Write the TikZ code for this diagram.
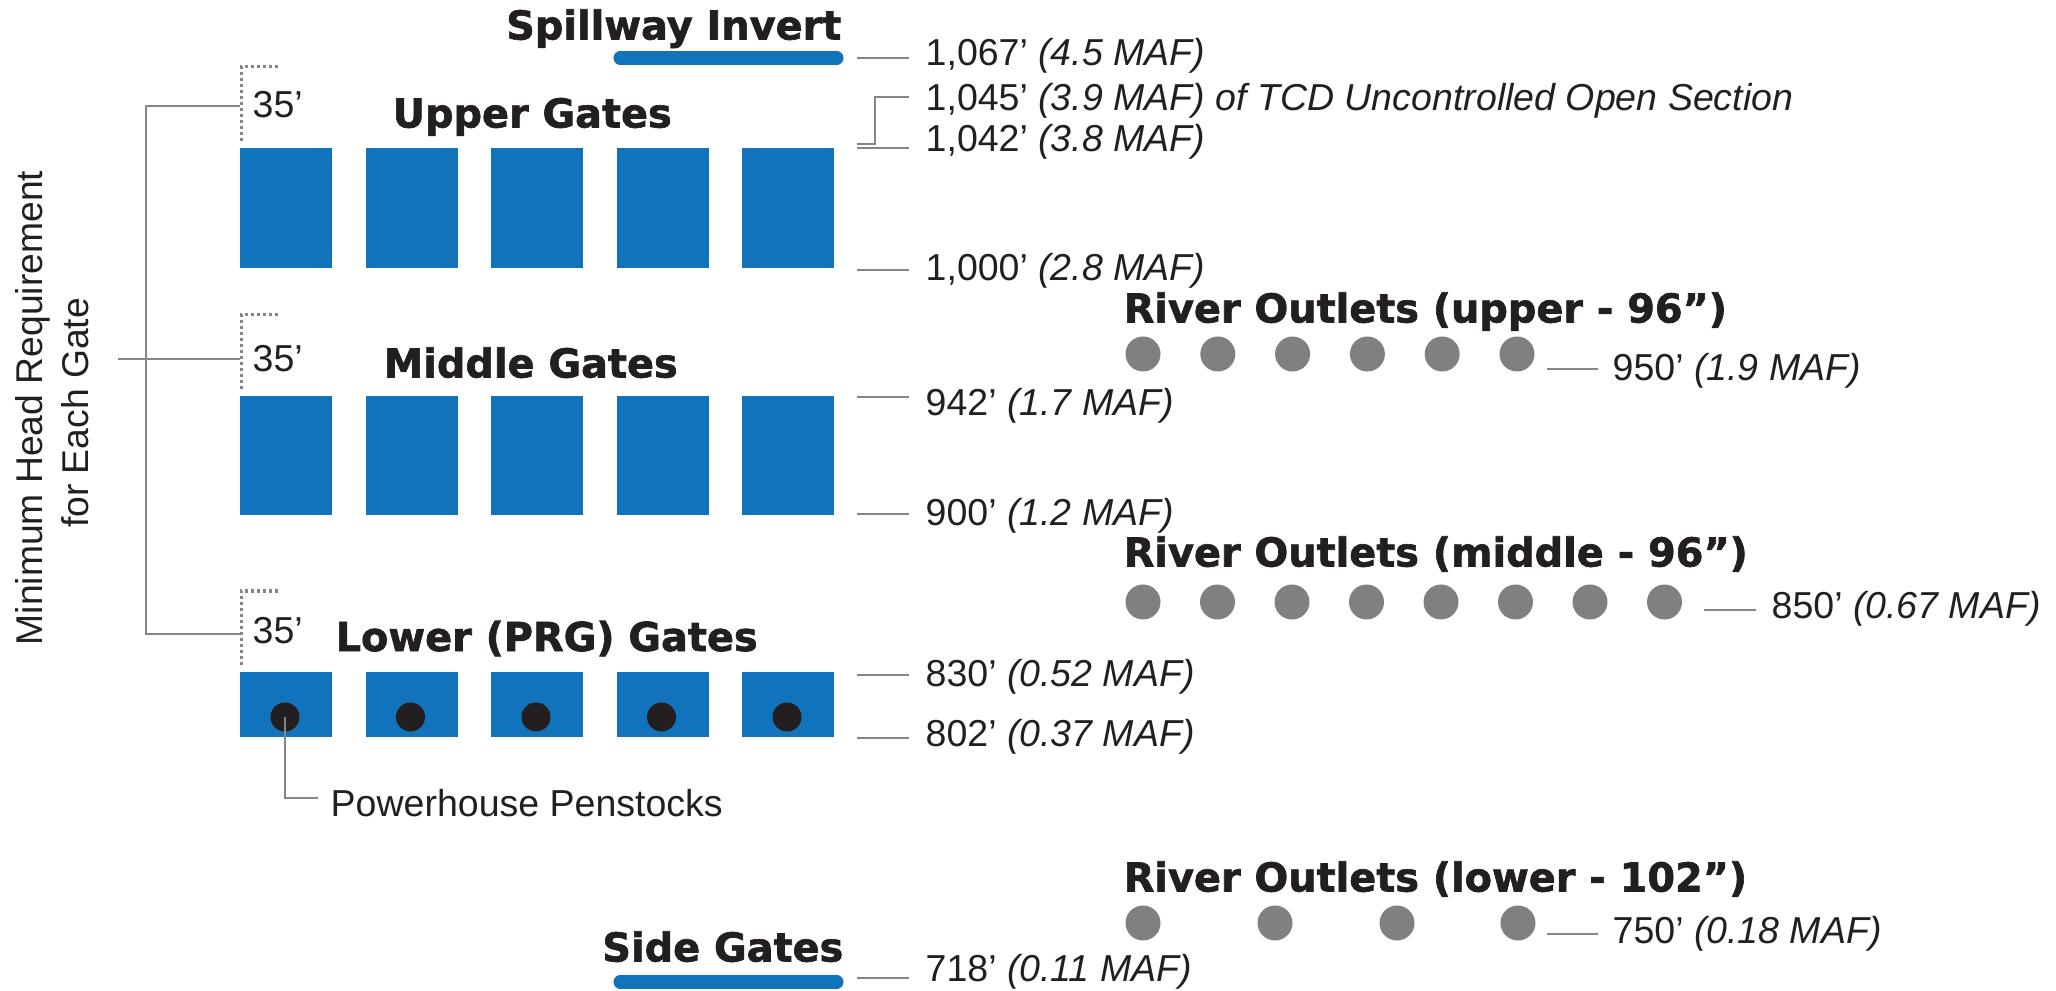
\documentclass[tikz,border=0pt]{standalone}
\usepackage{fontspec}
\setmainfont{Liberation Sans}
\newfontfamily\dvs{DejaVu Sans}[BoldFeatures={FakeBold=1.6}]
\definecolor{gblue}{HTML}{1173BB}
\definecolor{cgray}{HTML}{808080}
\definecolor{lgray}{HTML}{858585}
\definecolor{ink}{HTML}{231F20}
\begin{document}
\begin{tikzpicture}[x=0.01cm,y=-0.01cm,
  title/.style={font=\dvs\bfseries\fontsize{11.32}{13.5}\selectfont, text=ink, inner sep=0},
  lab/.style={font=\fontsize{10.67}{12.8}\selectfont, text=ink, inner sep=0, anchor=base west},
  rot/.style={font=\fontsize{10.6}{12.8}\selectfont, text=ink, inner sep=0, anchor=base, rotate=90},
  tick/.style={draw=lgray, line width=0.025cm},
  dotline/.style={draw=lgray, line width=0.03cm, dash pattern=on 0.03cm off 0.03cm},
  gate/.style={fill=gblue},
  outlet/.style={fill=cgray},
  bar/.style={draw=gblue, line width=0.13cm, line cap=round},
]
\useasboundingbox (0,0) rectangle (2056,991);

% ---- titles
\node[title, anchor=base east] (tspill) at (842,39.5) {Spillway Invert};
\node[title, anchor=base west] (tupper) at (392,127.5) {Upper Gates};
\node[title, anchor=base west] (tmiddle) at (383,377.5) {Middle Gates};
\node[title, anchor=base west] (tlower) at (335,651) {Lower (PRG) Gates};
\node[title, anchor=base east] (tside) at (844,961.5) {Side Gates};
\node[title, anchor=base west] (trou) at (1123,322.5) {River Outlets (upper - 96”)};
\node[title, anchor=base west] (trom) at (1123,566.5) {River Outlets (middle - 96”)};
\node[title, anchor=base west] (trol) at (1123,891.5) {River Outlets (lower - 102”)};

% ---- bars
\draw[bar] (620,58) -- (837,58);
\draw[bar] (620,982) -- (837,982);

% ---- gates
\foreach \i in {0,...,4} {
  \pgfmathsetmacro{\xl}{240+125.5*\i}
  \fill[gate] (\xl,148) rectangle ++(92,120);
  \fill[gate] (\xl,396) rectangle ++(92,119);
  \fill[gate] (\xl,672) rectangle ++(92,65);
  \fill[ink] (\xl+45,717) circle (14.5);
}

% ---- river outlets
\foreach \i in {0,...,5} { \fill[outlet] (1143+74.8*\i,354) circle (17.5); }
\foreach \i in {0,...,7} { \fill[outlet] (1143+74.5*\i,602) circle (17.5); }
\foreach \x in {1143,1275,1397,1518} { \fill[outlet] (\x,923) circle (17.5); }

% ---- head requirement markers
\foreach \t/\n/\b in {148/u/118, 396/m/372, 672/l/643} {
  \draw[dotline] (278,\t-81) -- (241,\t-81) -- (241,\t-5);
  \node[lab] (h35\n) at (252,\b) {35’};
}
\draw[tick] (240,106) -- (146,106) -- (146,634) -- (240,634);
\draw[tick] (118,359) -- (240,359);
\node[rot] (mh1) at (43,408) {Minimum Head Requirement};
\node[rot] (mh2) at (88,413) {for Each Gate};

% ---- penstocks
\coordinate (pend) at (318,798);
\draw[draw=lgray, line width=0.022cm] (285,717) |- (pend);
\node[lab] (pens) at (330,817) {Powerhouse Penstocks};

% ---- elevation labels (gates side)
\draw[tick] (857,58) -- (909,58);
\node[lab] (l1067) at (925,65.4) {1,067’ \textit{(4.5 MAF)}};
\draw[tick] (857,144) -- (875,144) -- (875,97) -- (909,97);
\node[lab] (l1045) at (925,110.4) {1,045’ \textit{(3.9 MAF) of TCD Uncontrolled Open Section}};
\draw[tick] (857,148) -- (909,148);
\node[lab] (l1042) at (925,151.4) {1,042’ \textit{(3.8 MAF)}};
\draw[tick] (857,270) -- (909,270);
\node[lab] (l1000) at (925,280.4) {1,000’ \textit{(2.8 MAF)}};
\draw[tick] (857,397) -- (909,397);
\node[lab] (l942) at (925,415.4) {942’ \textit{(1.7 MAF)}};
\draw[tick] (857,514) -- (909,514);
\node[lab] (l900) at (925,525) {900’ \textit{(1.2 MAF)}};
\draw[tick] (857,675) -- (909,675);
\node[lab] (l830) at (925,686) {830’ \textit{(0.52 MAF)}};
\draw[tick] (857,738) -- (909,738);
\node[lab] (l802) at (925,746) {802’ \textit{(0.37 MAF)}};
\draw[tick] (857,978) -- (909,978);
\node[lab] (l718) at (925,981) {718’ \textit{(0.11 MAF)}};

% ---- elevation labels (outlets)
\draw[tick] (1547,369) -- (1598,369);
\node[lab] (l950) at (1612,381) {950’ \textit{(1.9 MAF)}};
\draw[tick] (1704,610) -- (1756,610);
\node[lab] (l850) at (1771,619) {850’ \textit{(0.67 MAF)}};
\draw[tick] (1547,934) -- (1598,934);
\node[lab] (l750) at (1612,943) {750’ \textit{(0.18 MAF)}};
\end{tikzpicture}
\end{document}
